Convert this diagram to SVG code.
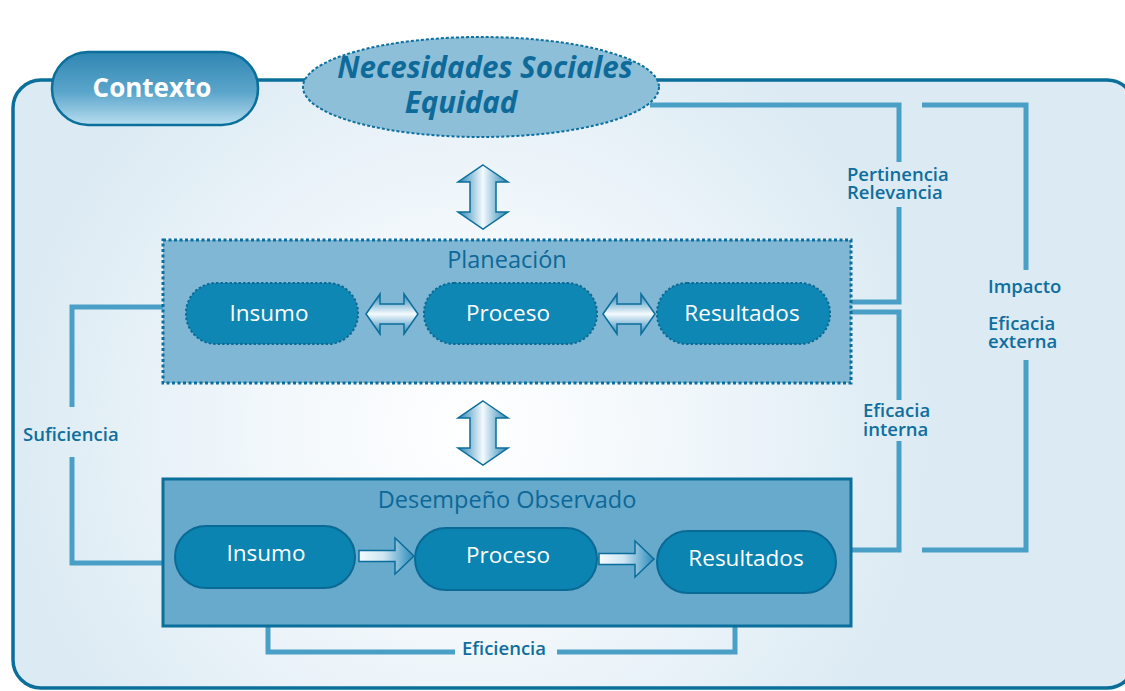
<svg xmlns="http://www.w3.org/2000/svg" width="1125" height="691" viewBox="0 0 1125 691">
<defs>
<radialGradient id="bgGlow" cx="470" cy="430" r="470" gradientUnits="userSpaceOnUse">
<stop offset="0" stop-color="#ffffff"/>
<stop offset="0.45" stop-color="#f1f7fb"/>
<stop offset="1" stop-color="#dbeaf3"/>
</radialGradient>
<linearGradient id="ctxGrad" x1="0" y1="0" x2="0" y2="1">
<stop offset="0" stop-color="#2f86b2"/>
<stop offset="0.55" stop-color="#5ba5cb"/>
<stop offset="1" stop-color="#b9def0"/>
</linearGradient>
<linearGradient id="vArrow" x1="0" y1="0" x2="1" y2="0">
<stop offset="0" stop-color="#2a86b6"/>
<stop offset="0.5" stop-color="#f4fafd"/>
<stop offset="1" stop-color="#2a86b6"/>
</linearGradient>
<linearGradient id="hArrow" x1="0" y1="0" x2="0" y2="1">
<stop offset="0" stop-color="#2a86b6"/>
<stop offset="0.5" stop-color="#f4fafd"/>
<stop offset="1" stop-color="#2a86b6"/>
</linearGradient>
<linearGradient id="sArrow" x1="0" y1="0" x2="1" y2="0">
<stop offset="0" stop-color="#f4fafd"/>
<stop offset="0.45" stop-color="#cfe6f2"/>
<stop offset="1" stop-color="#2a8abb"/>
</linearGradient>
<path id="dblV" d="M0,-32 L25,-15 L13,-15 L13,15 L25,15 L0,32 L-25,15 L-13,15 L-13,-15 L-25,-15 Z"/>
<path id="dblH" d="M-26,0 L-12,-20 L-12,-10 L12,-10 L12,-20 L26,0 L12,20 L12,10 L-12,10 L-12,20 Z"/>
<path id="sglH" d="M0,-5.5 L36,-5.5 L36,-18 L55,0 L36,18 L36,5.5 L0,5.5 Z"/>
</defs>
<style>
.lbl{font-family:"Open Sans","Liberation Sans",sans-serif;font-size:18.5px;font-weight:600;fill:#0f6e9d}
.pilltxt{font-family:"Open Sans","Liberation Sans",sans-serif;font-size:22.5px;fill:#ffffff;text-anchor:middle}
.title{font-family:"Open Sans","Liberation Sans",sans-serif;font-size:23.5px;fill:#0c6898;text-anchor:middle}
.conn{fill:none;stroke:#4a9fc7;stroke-width:5}
.ppill{fill:#0f87b4;stroke:#0b6a96;stroke-width:2;stroke-dasharray:2.5 2}
.dpill{fill:#0b84b1;stroke:#0a6a96;stroke-width:2}
.varr{fill:url(#vArrow);stroke:#0b6d9c;stroke-width:1.5}
.harr{fill:url(#hArrow);stroke:#0b6d9c;stroke-width:1.5}
.sarr{fill:url(#sArrow);stroke:#0b6d9c;stroke-width:1.5}
</style>

<g id="contexto-container">
<rect x="13" y="80" width="1122" height="608" rx="28" fill="url(#bgGlow)" stroke="#0a6f9a" stroke-width="3.5"/>
</g>

<g id="connectors">
<polyline class="conn" points="163,307 72,307 72,407"/>
<polyline class="conn" points="72,457 72,563 163,563"/>
<polyline class="conn" points="268,626 268,652 455,652"/>
<polyline class="conn" points="557,652 735,652 735,626"/>
<polyline class="conn" points="650,105 899,105 899,162"/>
<polyline class="conn" points="899,207 899,302 851,302"/>
<polyline class="conn" points="851,312 899,312 899,400"/>
<polyline class="conn" points="899,441 899,550 851,550"/>
<polyline class="conn" points="922,105 1026,105 1026,270"/>
<polyline class="conn" points="1026,360 1026,550 922,550"/>
</g>

<g id="contexto">
<rect x="52" y="52" width="206" height="73" rx="36" fill="url(#ctxGrad)" stroke="#0a6f9a" stroke-width="2.5"/>
<text x="152" y="97" font-family="'Open Sans','Liberation Sans',sans-serif" font-size="26" font-weight="700" fill="#ffffff" text-anchor="middle">Contexto</text>
</g>

<g id="necesidades">
<ellipse cx="481" cy="87" rx="178" ry="50" fill="#8dbfd9" stroke="#0d6f9e" stroke-width="2" stroke-dasharray="3 2"/>
<text x="485" y="78" font-family="'Open Sans','Liberation Sans',sans-serif" font-size="29.5" font-weight="700" font-style="italic" fill="#0d6a99" text-anchor="middle">Necesidades Sociales</text>
<text x="461" y="113" font-family="'Open Sans','Liberation Sans',sans-serif" font-size="29.5" font-weight="700" font-style="italic" fill="#0d6a99" text-anchor="middle">Equidad</text>
</g>

<g id="arrow-top">
<use href="#dblV" class="varr" transform="translate(483,197)"/>
</g>

<g id="planeacion">
<rect x="163" y="240" width="688" height="143" fill="#80b7d4" stroke="#0c6e9c" stroke-width="3" stroke-dasharray="3 2.5"/>
<text class="title" x="507" y="268">Planeación</text>
</g>
<g id="plan-insumo">
<rect class="ppill" x="186" y="283" width="172" height="61" rx="30"/>
<text class="pilltxt" x="269" y="321">Insumo</text>
</g>
<g id="plan-proceso">
<rect class="ppill" x="424" y="283" width="173" height="61" rx="30"/>
<text class="pilltxt" x="508" y="321">Proceso</text>
</g>
<g id="plan-resultados">
<rect class="ppill" x="657" y="283" width="173" height="61" rx="30"/>
<text class="pilltxt" x="742" y="321">Resultados</text>
</g>
<g id="plan-arrows">
<use href="#dblH" class="harr" transform="translate(392,314)"/>
<use href="#dblH" class="harr" transform="translate(629,314)"/>
</g>

<g id="arrow-mid">
<use href="#dblV" class="varr" transform="translate(483,433)"/>
</g>

<g id="desempeno">
<rect x="163" y="479" width="688" height="147" fill="#68aacc" stroke="#0a6f9a" stroke-width="3"/>
<text class="title" x="507" y="508">Desempeño Observado</text>
</g>
<g id="des-insumo">
<rect class="dpill" x="175" y="526" width="180" height="62" rx="31"/>
<text class="pilltxt" x="266" y="561">Insumo</text>
</g>
<g id="des-proceso">
<rect class="dpill" x="415" y="528" width="182" height="62" rx="31"/>
<text class="pilltxt" x="508" y="563">Proceso</text>
</g>
<g id="des-resultados">
<rect class="dpill" x="657" y="531" width="179" height="62" rx="31"/>
<text class="pilltxt" x="746" y="566">Resultados</text>
</g>
<g id="des-arrows">
<use href="#sglH" class="sarr" transform="translate(359,556)"/>
<use href="#sglH" class="sarr" transform="translate(599,559)"/>
</g>

<g id="labels">
<text class="lbl" x="23" y="441">Suficiencia</text>
<text class="lbl" x="462" y="655">Eficiencia</text>
<text class="lbl" x="847" y="181">Pertinencia</text>
<text class="lbl" x="847" y="199">Relevancia</text>
<text class="lbl" x="863" y="417">Eficacia</text>
<text class="lbl" x="863" y="436">interna</text>
<text class="lbl" x="988" y="293">Impacto</text>
<text class="lbl" x="988" y="330">Eficacia</text>
<text class="lbl" x="988" y="348">externa</text>
</g>
</svg>
